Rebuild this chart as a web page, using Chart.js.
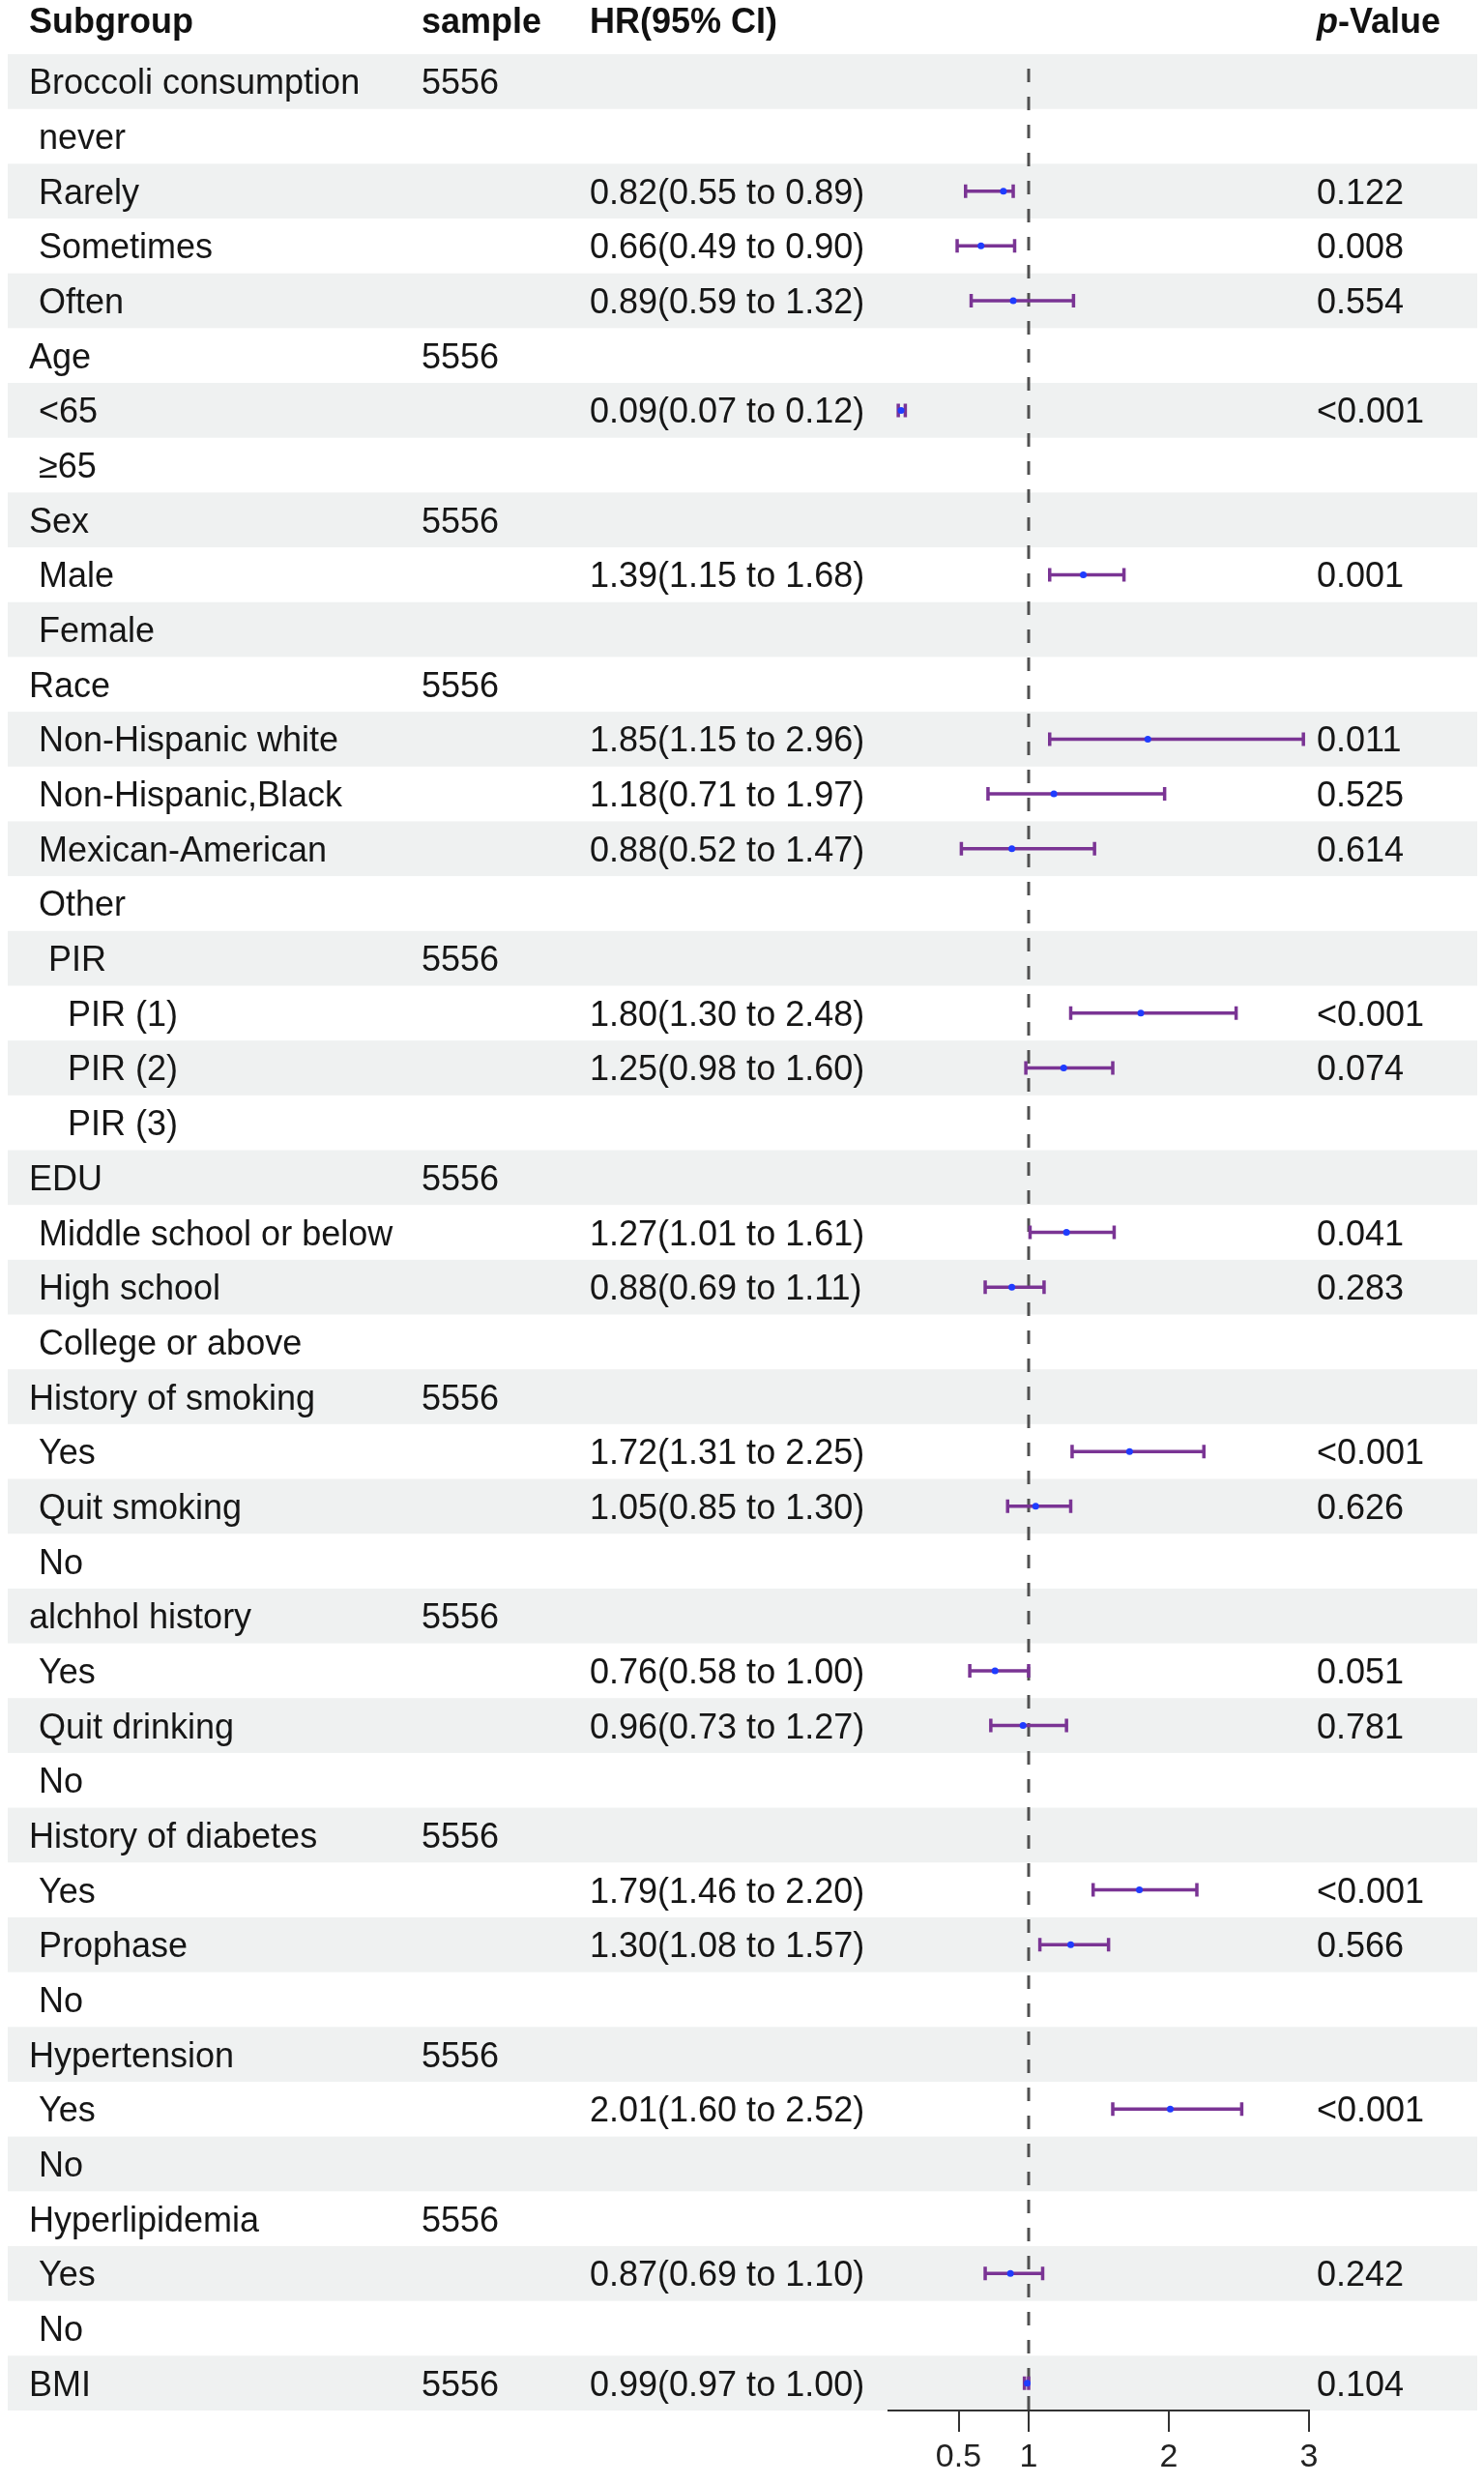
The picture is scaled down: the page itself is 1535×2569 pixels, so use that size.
<!DOCTYPE html>
<html>
<head>
<meta charset="utf-8">
<script src="https://cdn.jsdelivr.net/npm/chart.js@4.4.1/dist/chart.umd.min.js"></script>
<style>
  html, body { margin: 0; padding: 0; background: #fff; }
  #wrap { width: 1535px; height: 2569px; position: relative; }
</style>
</head>
<body>
<div id="wrap"><canvas id="forest"></canvas></div>
<script>
// Table rows (leading spaces are the indentation of the original table)
const subgroups = [
    'Broccoli consumption', ' never', ' Rarely', ' Sometimes', ' Often',
    'Age', ' <65', ' \u226565',
    'Sex', ' Male', ' Female',
    'Race', ' Non-Hispanic white', ' Non-Hispanic,Black', ' Mexican-American', ' Other',
    '  PIR', '    PIR (1)', '    PIR (2)', '    PIR (3)',
    'EDU', ' Middle school or below', ' High school', ' College or above',
    'History of smoking', ' Yes', ' Quit smoking', ' No',
    'alchhol history', ' Yes', ' Quit drinking', ' No',
    'History of diabetes', ' Yes', ' Prophase', ' No',
    'Hypertension', ' Yes', ' No',
    'Hyperlipidemia', ' Yes', ' No',
    'BMI'
];
const samples = [
    '5556', '', '', '', '',
    '5556', '', '',
    '5556', '', '',
    '5556', '', '', '', '',
    '5556', '', '', '',
    '5556', '', '', '',
    '5556', '', '', '',
    '5556', '', '', '',
    '5556', '', '', '',
    '5556', '', '',
    '5556', '', '',
    '5556'
];
const hr = [
    null, null, 0.82, 0.66, 0.89,
    null, 0.09, null,
    null, 1.39, null,
    null, 1.85, 1.18, 0.88, null,
    null, 1.80, 1.25, null,
    null, 1.27, 0.88, null,
    null, 1.72, 1.05, null,
    null, 0.76, 0.96, null,
    null, 1.79, 1.30, null,
    null, 2.01, null,
    null, 0.87, null,
    0.99
];
const lower = [
    null, null, 0.55, 0.49, 0.59,
    null, 0.07, null,
    null, 1.15, null,
    null, 1.15, 0.71, 0.52, null,
    null, 1.30, 0.98, null,
    null, 1.01, 0.69, null,
    null, 1.31, 0.85, null,
    null, 0.58, 0.73, null,
    null, 1.46, 1.08, null,
    null, 1.60, null,
    null, 0.69, null,
    0.97
];
const upper = [
    null, null, 0.89, 0.90, 1.32,
    null, 0.12, null,
    null, 1.68, null,
    null, 2.96, 1.97, 1.47, null,
    null, 2.48, 1.60, null,
    null, 1.61, 1.11, null,
    null, 2.25, 1.30, null,
    null, 1.00, 1.27, null,
    null, 2.20, 1.57, null,
    null, 2.52, null,
    null, 1.10, null,
    1.00
];
const pValues = [
    '', '', '0.122', '0.008', '0.554',
    '', '<0.001', '',
    '', '0.001', '',
    '', '0.011', '0.525', '0.614', '',
    '', '<0.001', '0.074', '',
    '', '0.041', '0.283', '',
    '', '<0.001', '0.626', '',
    '', '0.051', '0.781', '',
    '', '<0.001', '0.566', '',
    '', '<0.001', '',
    '', '0.242', '',
    '0.104'
];
const xTicks = [0.5, 1, 2, 3];
const refLine = 1;

const FONT = '"Liberation Sans", Arial, Helvetica, sans-serif';
const ROW_COUNT = subgroups.length;

/* Formats the HR(95% CI) column text */
const hrText = (i) => {
    if (hr[i] === null) return '';
    return hr[i].toFixed(2) + '(' + lower[i].toFixed(2) + ' to ' + upper[i].toFixed(2) + ')';
};

/* Draws the zebra bands and the text columns of the table */
const tablePlugin = {
    id: 'forestTable',
    beforeDraw(chart) {
        const ctx = chart.ctx;
        const y = chart.scales.y;
        ctx.save();

        // Shaded bands on every other row
        ctx.fillStyle = '#eff1f1';
        for (let i = 0; i < ROW_COUNT; i += 2) {
            const top = y.getPixelForValue(i - 0.5);
            const bottom = y.getPixelForValue(i + 0.5);
            ctx.fillRect(8, top, 1520, bottom - top);
        }

        // Header
        ctx.fillStyle = '#111';
        ctx.textBaseline = 'alphabetic';
        ctx.textAlign = 'left';
        ctx.font = 'bold 36px ' + FONT;
        const headY = 34;
        ctx.fillText('Subgroup', 30, headY);
        ctx.fillText('sample', 436, headY);
        ctx.fillText('HR(95% CI)', 610, headY);
        ctx.font = 'italic bold 36px ' + FONT;
        ctx.fillText('p', 1362, headY);
        const pw = ctx.measureText('p').width;
        ctx.font = 'bold 36px ' + FONT;
        ctx.fillText('-Value', 1362 + pw, headY);

        // Rows
        ctx.font = '36px ' + FONT;
        ctx.fillStyle = '#161616';
        for (let i = 0; i < ROW_COUNT; i++) {
            const base = y.getPixelForValue(i) + 13;
            ctx.fillText(subgroups[i], 30, base);
            ctx.fillText(samples[i], 436, base);
            ctx.fillText(hrText(i), 610, base);
            ctx.fillText(pValues[i], 1362, base);
        }
        ctx.restore();
    },
    afterDatasetDraw(chart, args) {
        // Whiskers go over the reference line but under the points
        if (args.index !== 1) return;
        const ctx = chart.ctx;
        const x = chart.scales.x;
        const y = chart.scales.y;
        ctx.save();
        ctx.strokeStyle = '#7a3494';
        ctx.lineWidth = 3.5;
        for (let i = 0; i < ROW_COUNT; i++) {
            if (hr[i] === null) continue;
            const yc = y.getPixelForValue(i);
            const x0 = x.getPixelForValue(lower[i]);
            const x1 = x.getPixelForValue(upper[i]);
            ctx.beginPath();
            ctx.moveTo(x0, yc);
            ctx.lineTo(x1, yc);
            ctx.moveTo(x0, yc - 7);
            ctx.lineTo(x0, yc + 7);
            ctx.moveTo(x1, yc - 7);
            ctx.lineTo(x1, yc + 7);
            ctx.stroke();
        }
        ctx.restore();
    }
};

const buildForest = () => {

    const points = [];
    hr.forEach((v, i) => {
        if (v !== null) points.push({ x: v, y: i });
    });

    const data = {
        datasets: [{
            label: 'HR',
            data: points,
            pointRadius: 3.5,
            pointBackgroundColor: '#1f3cff',
            pointBorderWidth: 0,
            showLine: false,
            order: 0
        }, {
            label: 'Reference',
            data: [{ x: refLine, y: -0.5 }, { x: refLine, y: ROW_COUNT - 0.5 }],
            showLine: true,
            borderColor: '#505050',
            borderWidth: 3,
            borderDash: [14, 15],
            borderDashOffset: 14,
            pointRadius: 0,
            order: 1
        }]
    };

    const config = {
        type: 'scatter',
        data: data,
        options: {
            responsive: true,
            maintainAspectRatio: false,
            animation: false,
            layout: {
                padding: { left: 919, right: 181, top: 56, bottom: 0 }
            },
            plugins: {
                legend: { display: false },
                tooltip: { enabled: false }
            },
            scales: {
                x: {
                    type: 'linear',
                    min: 0,
                    max: 3,
                    afterBuildTicks: (scale) => {
                        scale.ticks = xTicks.map(v => ({ value: v }));
                    },
                    afterFit: (scale) => {
                        scale.height = 76;
                    },
                    ticks: {
                        font: { family: FONT, size: 34 },
                        color: '#222',
                        padding: 6,
                        maxRotation: 0,
                        autoSkip: false
                    },
                    grid: {
                        drawOnChartArea: false,
                        drawTicks: true,
                        tickLength: 22,
                        color: '#333',
                        lineWidth: 2
                    },
                    border: { display: true, color: '#333', width: 2 }
                },
                y: {
                    type: 'linear',
                    display: false,
                    reverse: true,
                    min: -0.5,
                    max: ROW_COUNT - 0.5
                }
            }
        },
        plugins: [tablePlugin]
    };

    const ctx = document.getElementById('forest').getContext('2d');
    new Chart(ctx, config);
};

document.addEventListener('DOMContentLoaded', () => {
    buildForest();
});
</script>
</body>
</html>
